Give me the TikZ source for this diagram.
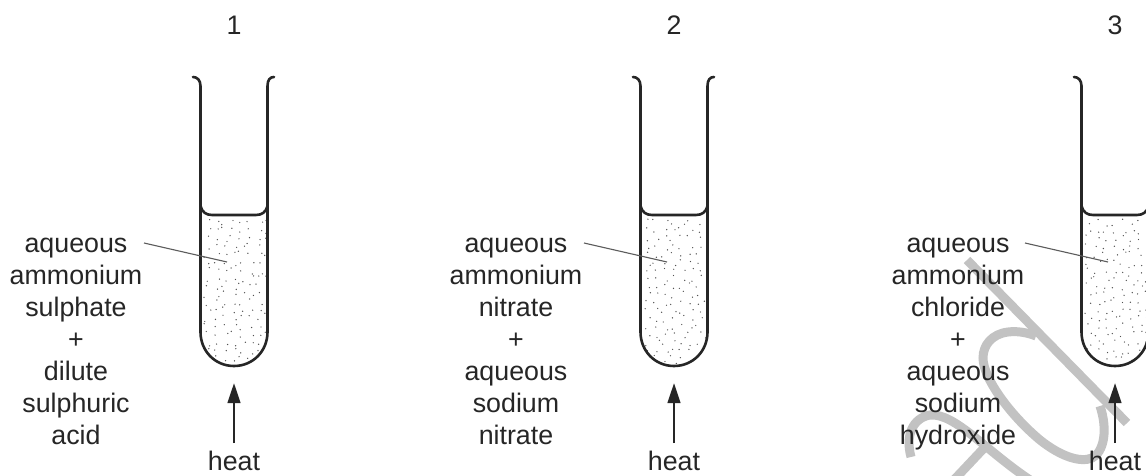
\documentclass[tikz,border=0pt]{standalone}
\usepackage{fontspec}
\setmainfont{Liberation Sans}
\usepackage{xcolor}
\usepackage{tikz}
\usetikzlibrary{arrows.meta}

\definecolor{inkdark}{HTML}{262626}
\definecolor{markgrey}{HTML}{C2C2C2}
\tikzset{
	labeltext/.style={text=inkdark, align=center, inner sep=0pt, font=\fontsize{26.8}{32}\selectfont},
	tubewall/.style={inkdark, line width=2.6pt, line join=round, line cap=round},
	leaderline/.style={inkdark!75, line width=1.1pt},
	heatarrow/.style={-{Triangle[length=20pt,width=12.5pt]}, inkdark, line width=2.6pt},
	watermark/.style={markgrey, line width=9pt},
}

\begin{document}
\begin{tikzpicture}[x=1pt,y=-1pt]
	\clip (0,0) rectangle (1146,476);
	\fill[white] (0,0) rectangle (1146,476);
	\pgfmathsetseed{4711}

	% Grey strokes behind the third tube
	\draw[watermark] (967,260) -- (1127,423);
	\draw[watermark] (1036,336) .. controls (1026,332) and (1016,331) .. (1008,332) .. controls (992,334) and (983,345) .. (983,358) .. controls (983,378) and (1010,415) .. (1040,440) .. controls (1060,456) and (1080,463) .. (1092,458) .. controls (1104,452) and (1108,430) .. (1100,406);
	\draw[watermark] (911,457) .. controls (905,435) and (913,418) .. (930,415) .. controls (955,413) and (985,450) .. (1030,480);
	\draw[watermark] (985,447) -- (952,482);
	\draw[watermark] (850,480) -- (870,480);

	\foreach \n/\dx/\cx/\txt in {
		1/0/76/{aqueous\\ammonium\\sulphate\\+\\dilute\\sulphuric\\acid},
		2/440/76/{aqueous\\ammonium\\nitrate\\+\\aqueous\\sodium\\nitrate},
		3/881/77/{aqueous\\ammonium\\chloride\\+\\aqueous\\sodium\\hydroxide}} {
		\begin{scope}[shift={(\dx,0)}]
			% Stippled liquid
			\begin{scope}
				\clip (201,218) -- (267,218) -- (267,332) .. controls (267,351) and (252,365) .. (234,365) .. controls (215,365) and (201,351) .. (201,332) -- cycle;
				\foreach \kx in {0,...,7} {
					\foreach \ky in {0,...,18} {
						\pgfmathsetmacro{\dotx}{204+8.6*\kx+7*rnd}
						\pgfmathsetmacro{\doty}{219+8*\ky+7*rnd}
						\fill[inkdark!80] (\dotx,\doty) circle (0.7pt);
					}
				}
			\end{scope}

			% Tube
			\draw[tubewall] (193,77) .. controls (197,77) and (200.5,80) .. (200.5,86) -- (200.5,332) .. controls (200.5,351) and (215,366) .. (234,366) .. controls (253,366) and (267.5,351) .. (267.5,332) -- (267.5,86) .. controls (267.5,80) and (270,77) .. (274,77);
			\draw[tubewall] (200.5,206) .. controls (202,212) and (206,215) .. (212,215) -- (256,215) .. controls (262,215) and (266,212) .. (267.5,206);

			% Labels
			\node[labeltext] (num\n) at (234,25) {\n};
			\node[labeltext] (mix\n) at (\cx,341.6) {\strut\txt\strut};
			\node[labeltext, anchor=base] (heat\n) at (234,470.5) {heat};

			\coordinate (leadstart\n) at (144,243);
			\coordinate (leadend\n) at (227,262);
			\coordinate (tail\n) at (234,443);
			\coordinate (tip\n) at (234,383);
			\draw[leaderline] (leadstart\n) -- (leadend\n);
			\draw[heatarrow] (tail\n) -- (tip\n);
		\end{scope}
	}
\end{tikzpicture}
\end{document}
